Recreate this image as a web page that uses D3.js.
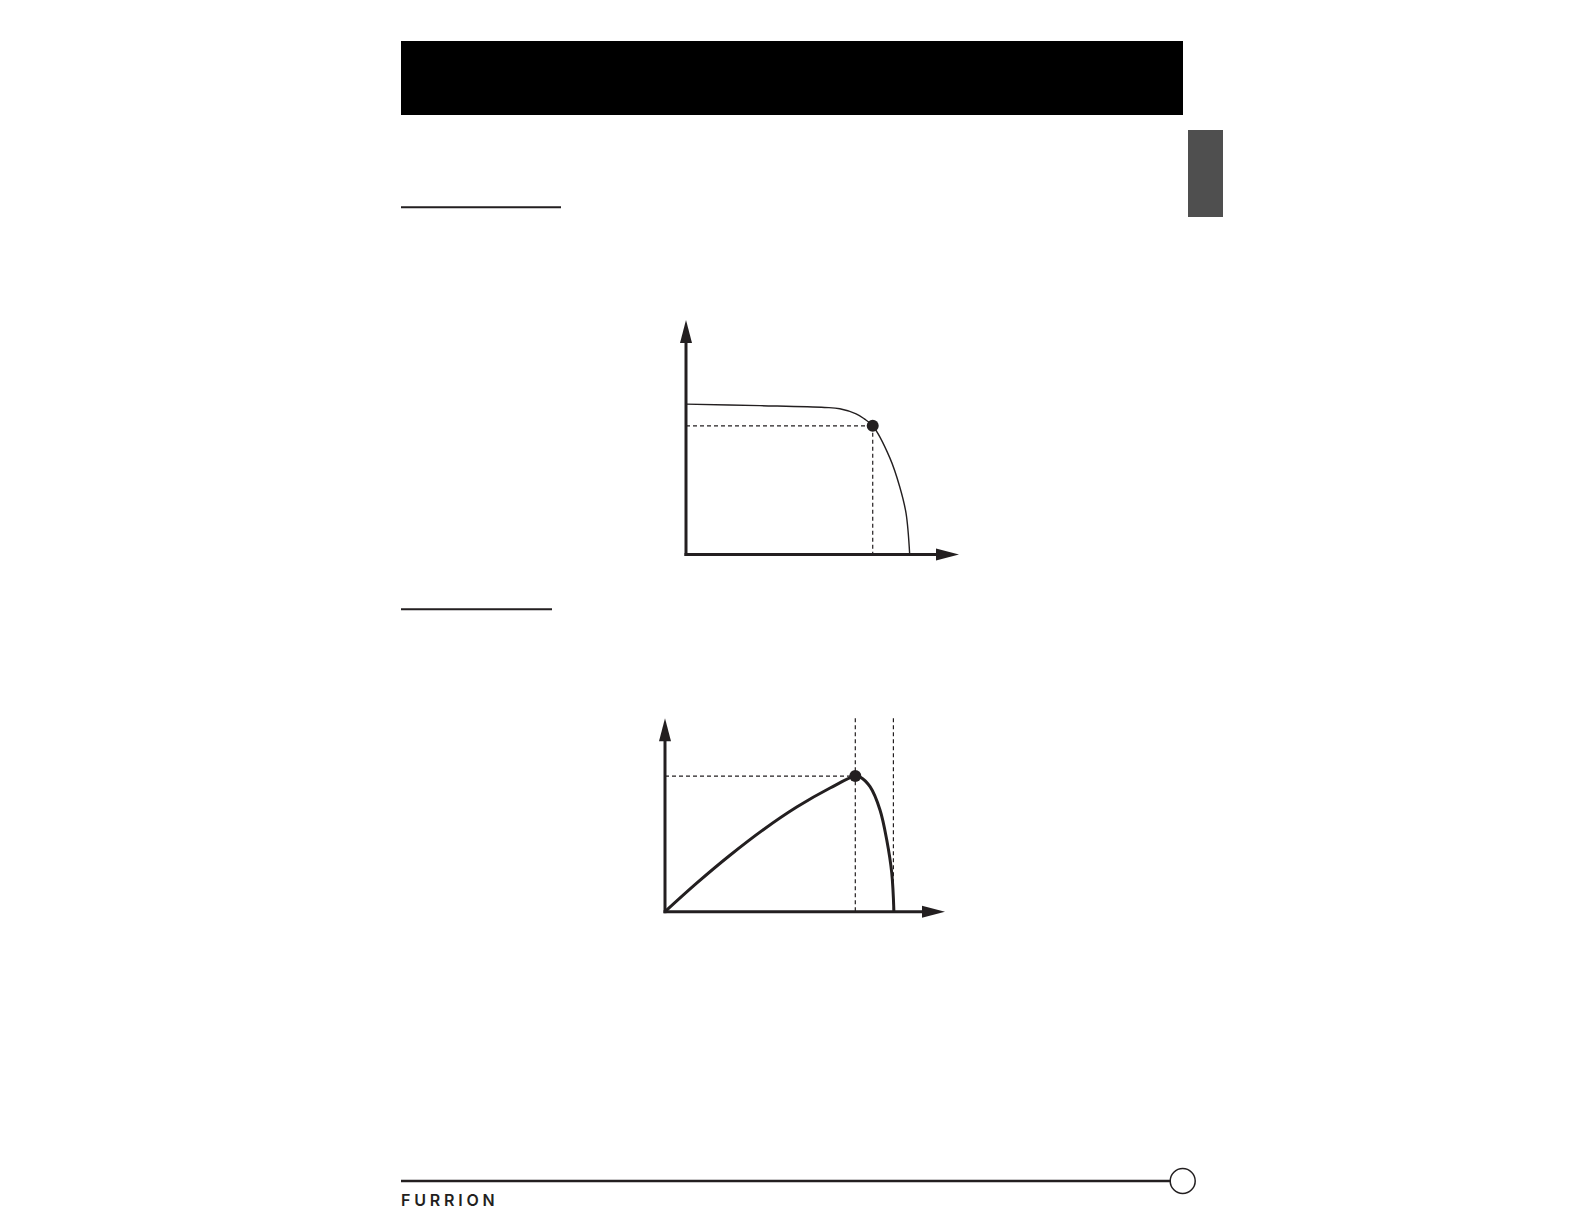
<!DOCTYPE html>
<html>
<head>
<meta charset="utf-8">
<script src="https://cdn.jsdelivr.net/npm/d3@7"></script>
<style>
  body { margin: 0; background: #fff; }
  svg { display: block; }
</style>
</head>
<body>
<div id="vis"></div>
<script>
// I-V curve of the panel (volts, amps)
var ivVolts = [0, 7.25, 13.6, 15.1, 16.7, 17.5, 18.33, 20.0, 20.98, 21.6, 21.96];
var ivAmps  = [5.90, 5.84, 5.77, 5.72, 5.52, 5.32, 5.05, 3.80, 2.66, 1.62, 0];

// P-V curve (volts, watts)
var pvVolts = [0, 3.05, 6.26, 9.47, 12.69, 15.9, 18.33, 18.8, 19.75, 20.71, 21.36, 21.84, 22.05];
var pvWatts = [0, 19.5, 38.6, 56.1, 71.6, 84.6, 92.8, 92.1, 85.5, 69.6, 49.0, 26.5, 0];

var vmp = 18.33, voc = 22.0, imp = 5.05, pmax = 92.8;

var ink = "#231f20";

var W = 1584, H = 1224;

var svg = d3.select("#vis").append("svg")
    .attr("width", W)
    .attr("height", H);

// page furniture
svg.append("rect").attr("x", 401).attr("y", 41).attr("width", 782).attr("height", 74).attr("fill", "#000");
svg.append("rect").attr("x", 1188).attr("y", 130).attr("width", 35).attr("height", 87).attr("fill", "#4f4f4f");
svg.append("line").attr("x1", 401).attr("x2", 561).attr("y1", 207.3).attr("y2", 207.3)
    .attr("stroke", ink).attr("stroke-width", 2);
svg.append("line").attr("x1", 401).attr("x2", 552).attr("y1", 609.3).attr("y2", 609.3)
    .attr("stroke", ink).attr("stroke-width", 2);

function arrowAxes(g, x, y, tipLen) {
    var x0 = x.range()[0], x1 = x.range()[1],
        y0 = y.range()[0], y1 = y.range()[1];
    g.append("line").attr("x1", x0).attr("x2", x0).attr("y1", y0 + 1.5).attr("y2", y1 + tipLen - 1)
        .attr("stroke", ink).attr("stroke-width", 3);
    g.append("line").attr("x1", x0 - 1.5).attr("x2", x1 - tipLen + 1).attr("y1", y0).attr("y2", y0)
        .attr("stroke", ink).attr("stroke-width", 3);
    g.append("path")
        .attr("d", "M" + x0 + "," + y1 + "L" + (x0 + 6) + "," + (y1 + tipLen) + "L" + (x0 - 6) + "," + (y1 + tipLen) + "Z")
        .attr("fill", ink);
    g.append("path")
        .attr("d", "M" + x1 + "," + y0 + "L" + (x1 - tipLen) + "," + (y0 - 6) + "L" + (x1 - tipLen) + "," + (y0 + 6) + "Z")
        .attr("fill", ink);
}

function dashed(g, xa, ya, xb, yb) {
    g.append("line").attr("x1", xa).attr("y1", ya).attr("x2", xb).attr("y2", yb)
        .attr("stroke", ink).attr("stroke-width", 1.2).attr("stroke-dasharray", "4,3");
}

// ---- chart 1 : I-V ----
var x1s = d3.scaleLinear().domain([0, 26.8]).range([686, 959]);
var y1s = d3.scaleLinear().domain([0, 9.2]).range([554.5, 320]);
var g1 = svg.append("g");

dashed(g1, x1s(0), y1s(imp), x1s(vmp), y1s(imp));
dashed(g1, x1s(vmp), y1s(imp), x1s(vmp), y1s(0));

g1.append("path")
    .datum(d3.zip(ivVolts, ivAmps))
    .attr("fill", "none")
    .attr("stroke", ink)
    .attr("stroke-width", 1.4)
    .attr("d", d3.line().x(function(d){return x1s(d[0])}).y(function(d){return y1s(d[1])}).curve(d3.curveCatmullRom.alpha(0.5)));

arrowAxes(g1, x1s, y1s, 23);

g1.append("circle").attr("cx", x1s(vmp)).attr("cy", y1s(imp)).attr("r", 6).attr("fill", ink);

// ---- chart 2 : P-V ----
var x2s = d3.scaleLinear().domain([0, 26.97]).range([665, 945]);
var y2s = d3.scaleLinear().domain([0, 132.3]).range([911.7, 718.3]);
var g2 = svg.append("g");

dashed(g2, x2s(0), y2s(pmax), x2s(vmp), y2s(pmax));
dashed(g2, x2s(vmp), y2s.range()[1], x2s(vmp), y2s(0));
dashed(g2, x2s(voc), y2s.range()[1], x2s(voc), y2s(0));

g2.append("path")
    .datum(d3.zip(pvVolts, pvWatts))
    .attr("fill", "none")
    .attr("stroke", ink)
    .attr("stroke-width", 3)
    .attr("d", d3.line().x(function(d){return x2s(d[0])}).y(function(d){return y2s(d[1])}).curve(d3.curveCatmullRom.alpha(0.5)));

arrowAxes(g2, x2s, y2s, 23);

g2.append("circle").attr("cx", x2s(vmp)).attr("cy", y2s(pmax)).attr("r", 6).attr("fill", ink);

// footer
svg.append("line").attr("x1", 401).attr("x2", 1170).attr("y1", 1181).attr("y2", 1181)
    .attr("stroke", ink).attr("stroke-width", 2.5);
svg.append("circle").attr("cx", 1182.7).attr("cy", 1181).attr("r", 12.5)
    .attr("fill", "#fff").attr("stroke", ink).attr("stroke-width", 1.5);
svg.append("text")
    .attr("x", 401).attr("y", 1205.5)
    .attr("font-family", "Inter, 'Noto Sans', sans-serif")
    .attr("font-size", 16)
    .attr("font-weight", 600)
    .attr("letter-spacing", 3.8)
    .attr("fill", ink)
    .text("FURRION");
</script>
</body>
</html>
